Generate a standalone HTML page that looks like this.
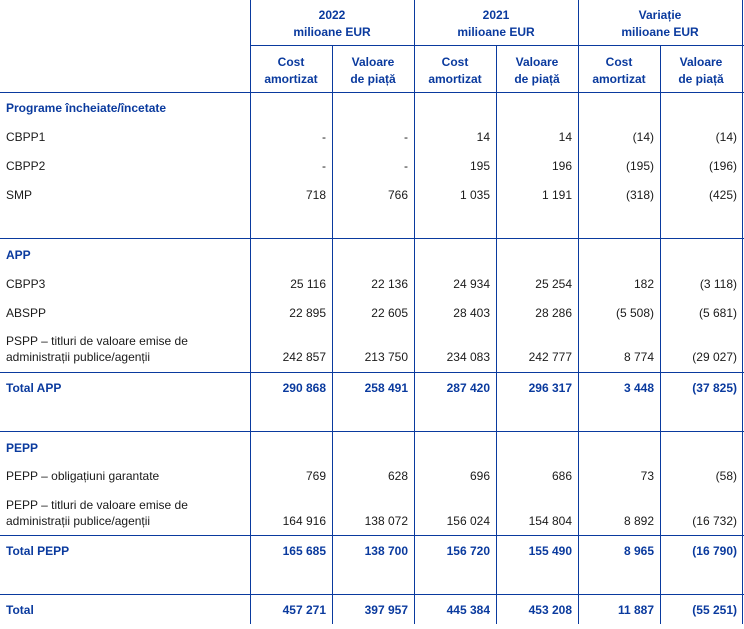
<!DOCTYPE html>
<html><head><meta charset="utf-8"><style>
body{margin:0;width:744px;height:629px;background:#fff;position:relative;overflow:hidden;font-family:"Liberation Sans",Arial,sans-serif;font-size:12px;color:#1a1a1a}
.h{position:absolute;height:1px;background:#0a3a9e}
.v{position:absolute;width:1px;background:#0a3a9e}
.t{position:absolute;line-height:14px;white-space:nowrap}
.b{font-weight:bold;color:#0a3a9e}
.c{text-align:center;line-height:17px}
.r{text-align:right;width:76px}
.m{line-height:16px}
</style></head><body>
<div class="h" style="left:250px;width:494px;top:45px"></div>
<div class="h" style="left:0;width:744px;top:92px"></div>
<div class="h" style="left:0;width:744px;top:238px"></div>
<div class="h" style="left:0;width:744px;top:372px"></div>
<div class="h" style="left:0;width:744px;top:431px"></div>
<div class="h" style="left:0;width:744px;top:535px"></div>
<div class="h" style="left:0;width:744px;top:594px"></div>
<div class="v" style="left:250px;top:0;height:624px"></div>
<div class="v" style="left:332px;top:45px;height:579px"></div>
<div class="v" style="left:414px;top:0;height:624px"></div>
<div class="v" style="left:496px;top:45px;height:579px"></div>
<div class="v" style="left:578px;top:0;height:624px"></div>
<div class="v" style="left:660px;top:45px;height:579px"></div>
<div class="v" style="left:742px;top:0;height:624px"></div>

<div class="t b c" style="left:250px;width:164px;top:7px">2022<br>milioane EUR</div>
<div class="t b c" style="left:414px;width:164px;top:7px">2021<br>milioane EUR</div>
<div class="t b c" style="left:578px;width:164px;top:7px">Variație<br>milioane EUR</div>
<div class="t b c" style="left:250px;width:82px;top:54px">Cost<br>amortizat</div>
<div class="t b c" style="left:332px;width:82px;top:54px">Valoare<br>de piață</div>
<div class="t b c" style="left:414px;width:82px;top:54px">Cost<br>amortizat</div>
<div class="t b c" style="left:496px;width:82px;top:54px">Valoare<br>de piață</div>
<div class="t b c" style="left:578px;width:82px;top:54px">Cost<br>amortizat</div>
<div class="t b c" style="left:660px;width:82px;top:54px">Valoare<br>de piață</div>

<div class="t b" style="left:6px;top:101px">Programe încheiate/încetate</div>
<div class="t" style="left:6px;top:130px">CBPP1</div>
<div class="t" style="left:6px;top:159px">CBPP2</div>
<div class="t" style="left:6px;top:188px">SMP</div>
<div class="t b" style="left:6px;top:248px">APP</div>
<div class="t" style="left:6px;top:277px">CBPP3</div>
<div class="t" style="left:6px;top:306px">ABSPP</div>
<div class="t m" style="left:6px;top:333px">PSPP – titluri de valoare emise de<br>administrații publice/agenții</div>
<div class="t b" style="left:6px;top:381px">Total APP</div>
<div class="t b" style="left:6px;top:441px">PEPP</div>
<div class="t" style="left:6px;top:469px">PEPP – obligațiuni garantate</div>
<div class="t m" style="left:6px;top:497px">PEPP – titluri de valoare emise de<br>administrații publice/agenții</div>
<div class="t b" style="left:6px;top:544px">Total PEPP</div>
<div class="t b" style="left:6px;top:603px">Total</div>

<div id="n"></div>
<script>
var rows=[
[130,0,["-","-","14","14","(14)","(14)"]],
[159,0,["-","-","195","196","(195)","(196)"]],
[188,0,["718","766","1 035","1 191","(318)","(425)"]],
[277,0,["25 116","22 136","24 934","25 254","182","(3 118)"]],
[306,0,["22 895","22 605","28 403","28 286","(5 508)","(5 681)"]],
[350,0,["242 857","213 750","234 083","242 777","8 774","(29 027)"]],
[381,1,["290 868","258 491","287 420","296 317","3 448","(37 825)"]],
[469,0,["769","628","696","686","73","(58)"]],
[514,0,["164 916","138 072","156 024","154 804","8 892","(16 732)"]],
[544,1,["165 685","138 700","156 720","155 490","8 965","(16 790)"]],
[603,1,["457 271","397 957","445 384","453 208","11 887","(55 251)"]]];
var rights=[326,408,490,572,654,737],h="";
rows.forEach(function(r){r[2].forEach(function(v,i){h+='<div class="t r'+(r[1]?' b':'')+'" style="left:'+(rights[i]-76)+'px;top:'+r[0]+'px">'+v+'</div>';});});
document.getElementById("n").innerHTML=h;
</script>
</body></html>
